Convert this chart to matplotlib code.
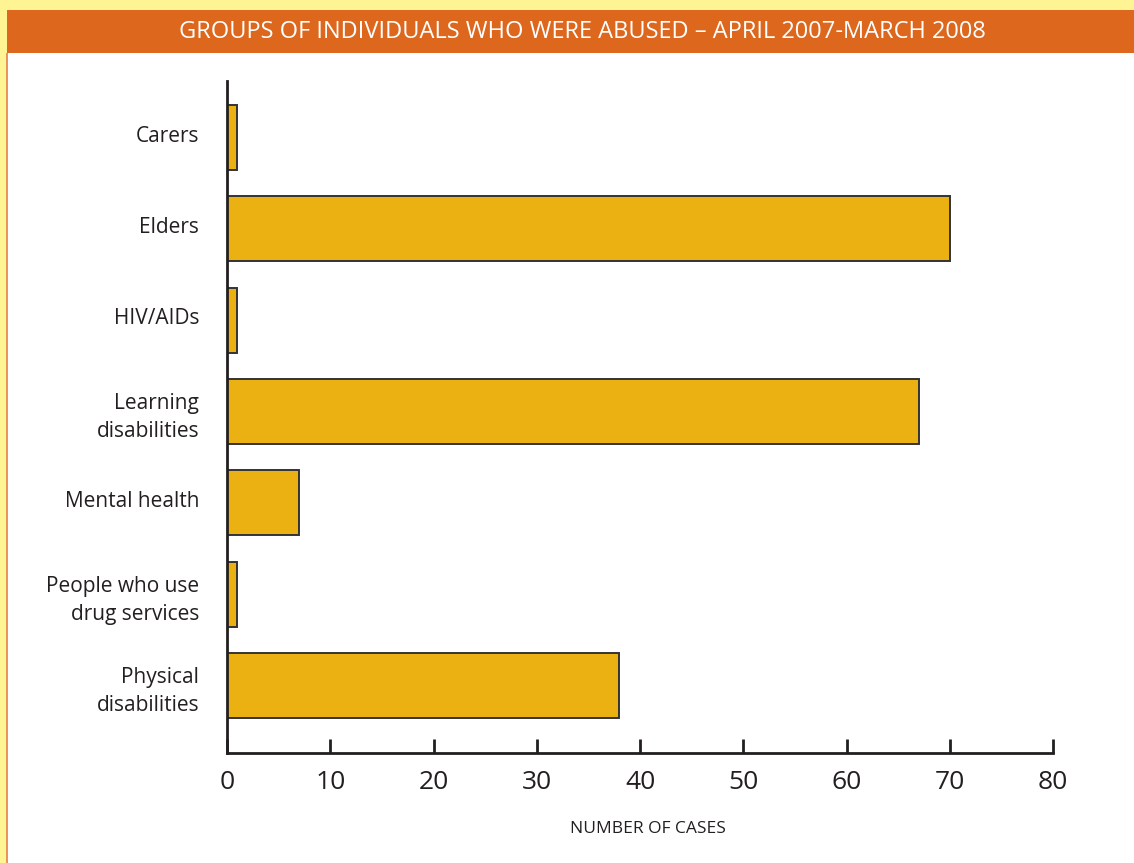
import matplotlib.pyplot as plt
import matplotlib.patches as mpatches
import matplotlib.transforms as mtransforms

groups = ["Carers", "Elders", "HIV/AIDs", "Learning\ndisabilities", "Mental health",
          "People who use\ndrug services", "Physical\ndisabilities"]
cases = [1, 70, 1, 67, 7, 1, 38]
xticks = [0, 10, 20, 30, 40, 50, 60, 70, 80]

plt.rcParams['font.family'] = ['Open Sans', 'DejaVu Sans']

fig = plt.figure(figsize=(11.34, 8.63), dpi=100)
fig.patch.set_facecolor('#FFF494')

# white panel and orange title bar
fig.patches.append(mpatches.Rectangle((7/1134, 0), 1, 1 - 53/863, transform=fig.transFigure,
                                      facecolor='white', edgecolor='none', zorder=0))
fig.patches.append(mpatches.Rectangle((6/1134, 0), 2/1134, 1 - 53/863, transform=fig.transFigure,
                                      facecolor='#E8955A', edgecolor='none', zorder=0))
fig.patches.append(mpatches.Rectangle((7/1134, 1 - 53/863), 1, 43/863, transform=fig.transFigure,
                                      facecolor='#DD681D', edgecolor='none', zorder=0))
fig.text(582/1134, 1 - 31.5/863, "GROUPS OF INDIVIDUALS WHO WERE ABUSED \u2013 APRIL 2007-MARCH 2008",
         color='white', fontsize=17, ha='center', va='center')

ax = fig.add_axes([227/1134, 1 - 753/863, 826/1134, 672/863])
ax.set_zorder(2)
ax.set_facecolor('none')
ax.barh(range(len(groups)), cases, height=0.71, color='#EBB012', edgecolor='#333333', linewidth=1.4)
ax.set_ylim(6.74, -0.62)
ax.set_xlim(0, 80)
ax.set_yticks(range(len(groups)))
ax.set_yticklabels(groups, fontsize=15, color='#231F20', linespacing=1.45)
ax.set_xticks(xticks)
ax.set_xticklabels([str(t) for t in xticks], fontsize=19, color='#231F20')
ax.tick_params(axis='y', length=0, pad=20)
ax.tick_params(axis='x', direction='in', length=10, width=2, color='#231F20', pad=12)
# single-line labels sit a little above the bar centre in the original
shift = mtransforms.ScaledTranslation(0, 4/100, fig.dpi_scale_trans)
for lab in ax.get_yticklabels():
    if '\n' not in lab.get_text():
        lab.set_transform(lab.get_transform() + shift)
for s in ['top', 'right']:
    ax.spines[s].set_visible(False)
for s in ['left', 'bottom']:
    ax.spines[s].set_linewidth(2)
    ax.spines[s].set_color('#231F20')
ax.set_xlabel("NUMBER OF CASES", fontsize=12.5, color='#231F20')
ax.xaxis.set_label_coords((648 - 227) / 826, -(821 - 753) / 672)

fig.savefig("out.png", dpi=100, facecolor=fig.get_facecolor())
